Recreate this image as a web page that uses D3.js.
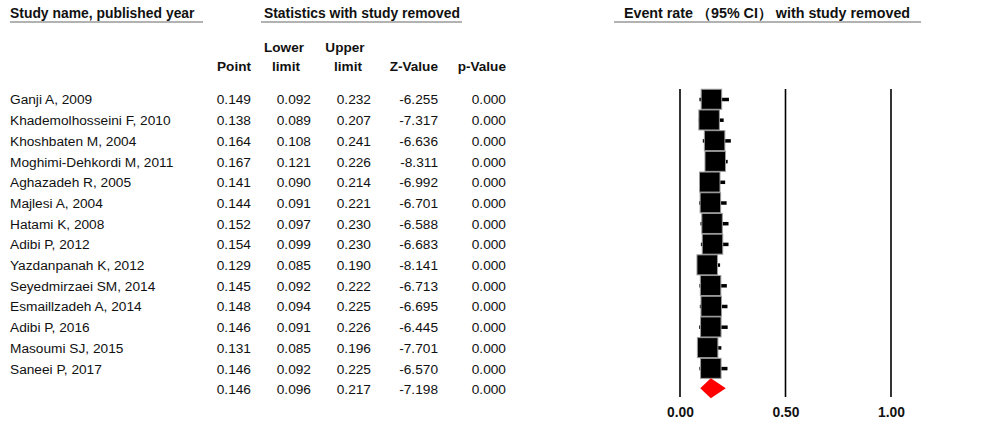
<!DOCTYPE html>
<html>
<head>
<meta charset="utf-8">
<script src="https://cdn.jsdelivr.net/npm/d3@7"></script>
<style>
  body { margin: 0; background: #fff; }
  svg { display: block; font-family: Arial, "Liberation Sans", sans-serif; }
</style>
</head>
<body>
<svg id="chart" width="986" height="427"></svg>
<script>
'use strict';
// values with each study removed
const studies = [
    "Ganji A, 2009", "Khademolhosseini F, 2010", "Khoshbaten M, 2004",
    "Moghimi-Dehkordi M, 2011", "Aghazadeh R, 2005", "Majlesi A, 2004",
    "Hatami K, 2008", "Adibi P, 2012", "Yazdanpanah K, 2012",
    "Seyedmirzaei SM, 2014", "Esmaillzadeh A, 2014", "Adibi P, 2016",
    "Masoumi SJ, 2015", "Saneei P, 2017"
];
const points = [0.149, 0.138, 0.164, 0.167, 0.141, 0.144, 0.152, 0.154, 0.129, 0.145, 0.148, 0.146, 0.131, 0.146];
const lowers = [0.092, 0.089, 0.108, 0.121, 0.090, 0.091, 0.097, 0.099, 0.085, 0.092, 0.094, 0.091, 0.085, 0.092];
const uppers = [0.232, 0.207, 0.241, 0.226, 0.214, 0.221, 0.230, 0.230, 0.190, 0.222, 0.225, 0.226, 0.196, 0.225];
const zValues = [-6.255, -7.317, -6.636, -8.311, -6.992, -6.701, -6.588, -6.683, -8.141, -6.713, -6.695, -6.445, -7.701, -6.570];
const pValues = [0, 0, 0, 0, 0, 0, 0, 0, 0, 0, 0, 0, 0, 0];

// pooled
const summary = { point: 0.146, lower: 0.096, upper: 0.217, z: -7.198, p: 0.000 };

const xTicks = [0, 0.5, 1];

const svg = d3.select("#chart");
const f3 = v => d3.format(".3f")(v).replace("\u2212", "-"); // plain hyphen like the original
const nRows = studies.length + 1;

const rows = studies.map((name, i) => ({
    name, point: points[i], lower: lowers[i], upper: uppers[i], z: zValues[i], p: pValues[i]
}));

const y = d3.scaleLinear().domain([0, nRows - 1]).range([99.5, 389.3]);
const x = d3.scaleLinear().domain([0, 1]).range([680, 891]);

// headers
const header = svg.append("g").attr("font-weight", "bold").attr("font-size", "13.9px").attr("fill", "#111");
header.append("text").attr("x", 10).attr("y", 18).text("Study name, published year");
header.append("text").attr("x", 362).attr("y", 18).attr("text-anchor", "middle").text("Statistics with study removed");
header.append("text").attr("x", 767).attr("y", 18).attr("text-anchor", "middle")
    .attr("font-size", "14.3px").text("Event rate （95% CI） with study removed");

[[10, 203], [261, 462], [614, 921]].forEach(([a, b]) => {
    svg.append("line").attr("x1", a).attr("x2", b).attr("y1", 22).attr("y2", 22)
        .attr("stroke", "#999").attr("stroke-width", 1.5);
});

const colHead = svg.append("g").attr("font-weight", "bold").attr("font-size", "13.6px").attr("fill", "#111");
colHead.append("text").attr("x", 251).attr("y", 71).attr("text-anchor", "end").text("Point");
colHead.append("text").attr("x", 284).attr("y", 52).attr("text-anchor", "middle").text("Lower");
colHead.append("text").attr("x", 286).attr("y", 71).attr("text-anchor", "middle").text("limit");
colHead.append("text").attr("x", 345).attr("y", 52).attr("text-anchor", "middle").text("Upper");
colHead.append("text").attr("x", 348).attr("y", 71).attr("text-anchor", "middle").text("limit");
colHead.append("text").attr("x", 438).attr("y", 71).attr("text-anchor", "end").text("Z-Value");
colHead.append("text").attr("x", 506).attr("y", 71).attr("text-anchor", "end").text("p-Value");

// table body
const cols = [
    { key: "point", x: 251 },
    { key: "lower", x: 311 },
    { key: "upper", x: 371 },
    { key: "z", x: 438 },
    { key: "p", x: 506 }
];
const allRows = rows.concat([Object.assign({ name: "" }, summary)]);

const body = svg.append("g").attr("font-size", "13.7px").attr("fill", "#111");
body.selectAll(".name")
    .data(allRows)
    .enter().append("text")
        .attr("class", "name")
        .attr("x", 10)
        .attr("y", (d, i) => y(i))
        .attr("dy", "0.36em")
        .text(d => d.name);
cols.forEach(c => {
    body.selectAll(".c-" + c.key)
        .data(allRows)
        .enter().append("text")
            .attr("class", "c-" + c.key)
            .attr("x", c.x)
            .attr("y", (d, i) => y(i))
            .attr("dy", "0.36em")
            .attr("text-anchor", "end")
            .text(d => f3(d[c.key]));
});

// reference lines
svg.selectAll(".ref")
    .data(xTicks)
    .enter().append("line")
        .attr("x1", d => x(d)).attr("x2", d => x(d))
        .attr("y1", 89).attr("y2", 397)
        .attr("stroke", "#000").attr("stroke-width", 1.6);

// axis labels
const axis = svg.append("g")
    .attr("transform", "translate(0,404)")
    .call(d3.axisBottom(x).tickValues(xTicks).tickFormat(d3.format(".2f")).tickSize(0));
axis.select(".domain").remove();
axis.selectAll("text")
    .attr("font-family", "Arial, 'Liberation Sans', sans-serif")
    .attr("font-size", "13.8px")
    .attr("font-weight", "bold")
    .attr("fill", "#111");

// forest marks
const marks = svg.append("g");
marks.selectAll(".ci")
    .data(rows)
    .enter().append("line")
        .attr("x1", d => x(d.lower)).attr("x2", d => x(d.upper))
        .attr("y1", (d, i) => y(i)).attr("y2", (d, i) => y(i))
        .attr("stroke", "#000").attr("stroke-width", 3.5);

const sq = 20.5;
marks.selectAll(".box")
    .data(rows)
    .enter().append("rect")
        .attr("x", d => x(d.point) - sq / 2)
        .attr("y", (d, i) => y(i) - sq / 2)
        .attr("width", sq)
        .attr("height", sq - 0.5)
        .attr("fill", "#000")
        .attr("stroke", "#9a9a9a")
        .attr("stroke-width", 1);

const cy = y(nRows - 1) - 1;
marks.append("path")
    .attr("d", `M${x(summary.lower)},${cy} L${x(summary.point)},${cy - 10} L${x(summary.upper)},${cy} L${x(summary.point)},${cy + 10} Z`)
    .attr("fill", "#ff0000");
</script>
</body>
</html>
